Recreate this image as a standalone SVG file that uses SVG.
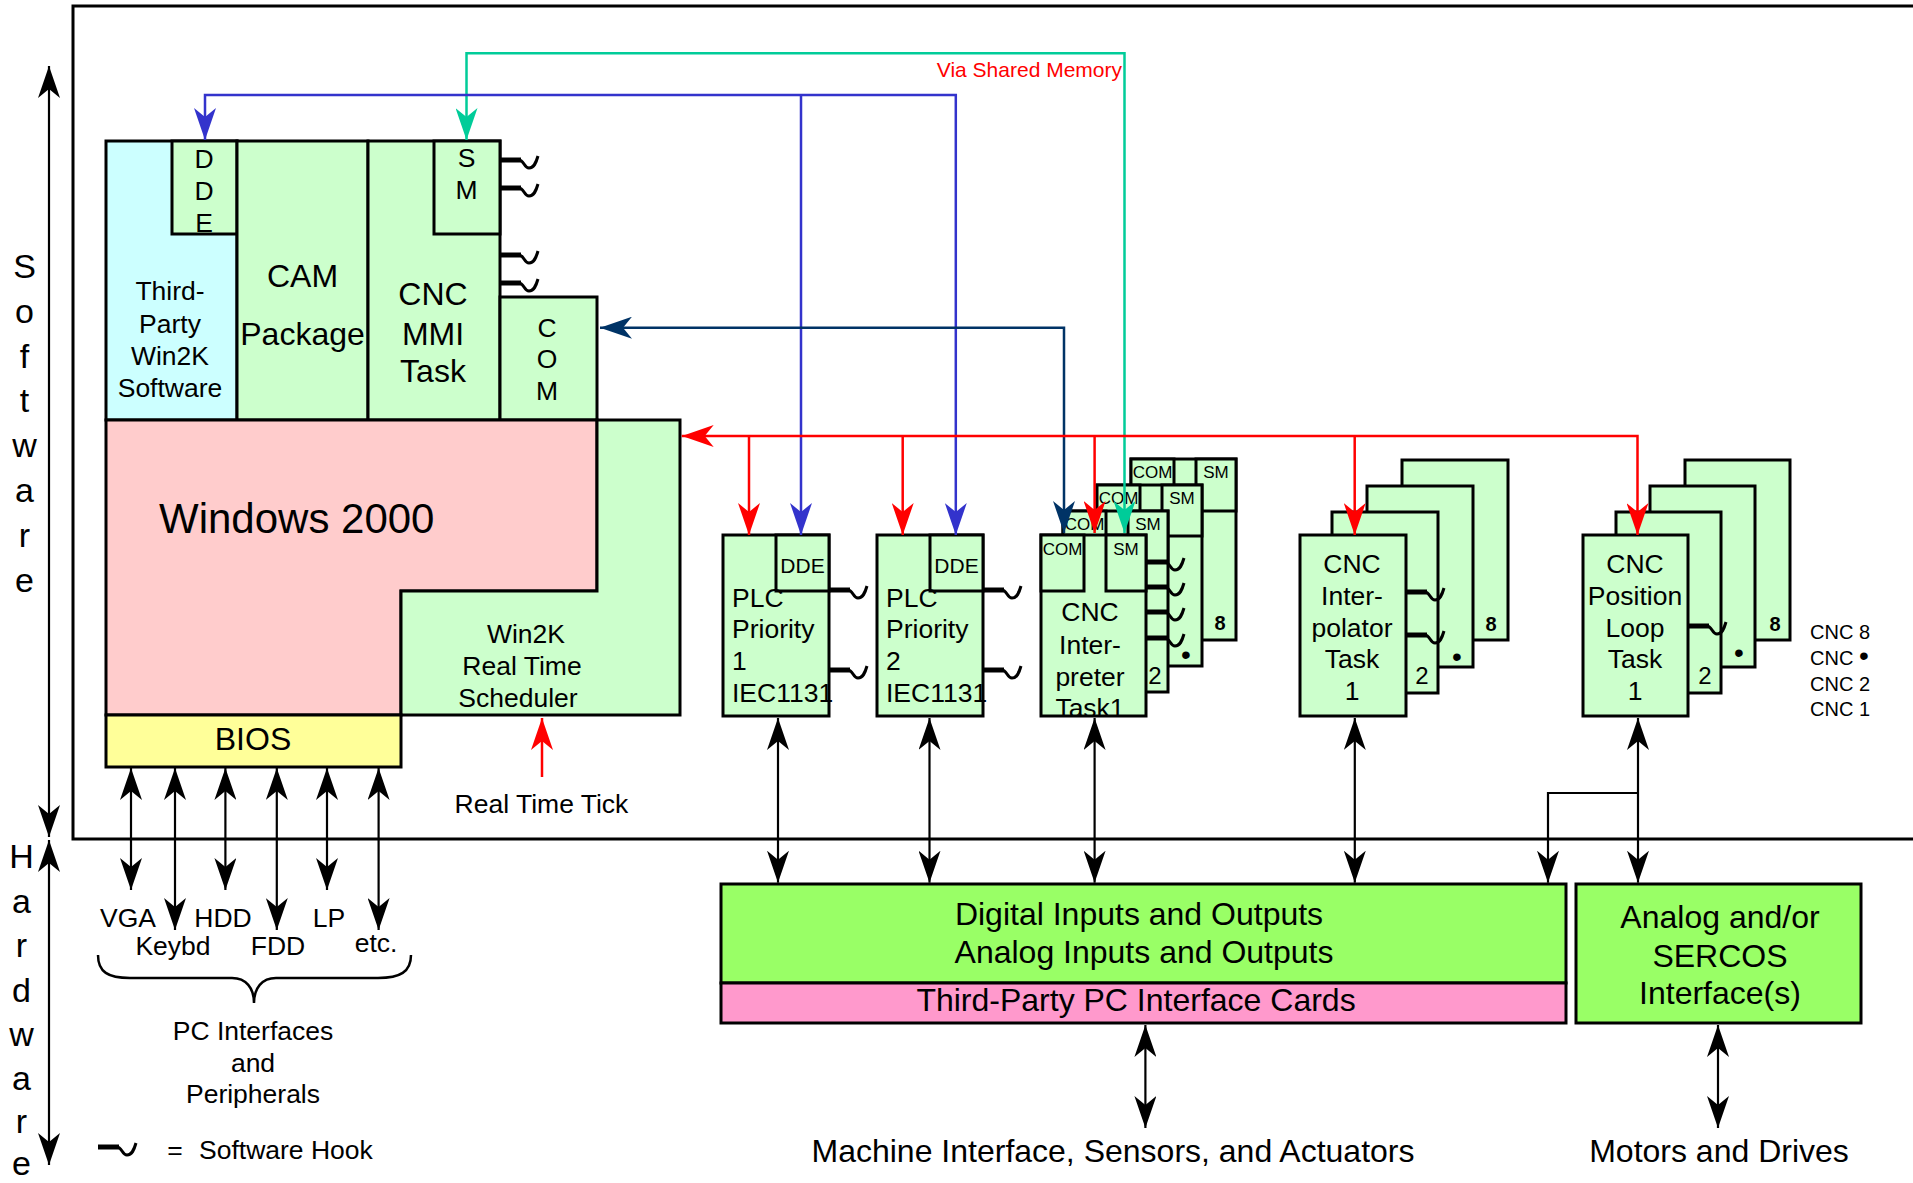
<svg xmlns="http://www.w3.org/2000/svg" xmlns:xlink="http://www.w3.org/1999/xlink" width="1913" height="1183" viewBox="0 0 1913 1183">
<style>
text{font-family:"Liberation Sans",Arial,sans-serif;fill:#000}
.b{stroke:#000;stroke-width:3}
.g{fill:#CCFFCC}
.c{text-anchor:middle}
.f26{font-size:26.5px}
.f31{font-size:32px}
.f17{font-size:17px}
.f21{font-size:21px}
.ln{fill:none;stroke-width:2.5}
.k{stroke:#000;fill:none;stroke-width:2.2}
</style>
<defs>
<marker id="ak" markerUnits="userSpaceOnUse" markerWidth="32" markerHeight="22" refX="32" refY="11" orient="auto-start-reverse" viewBox="0 0 32 22"><path d="M32,11 L0,0 L9,11 L0,22 Z" fill="#000"/></marker>
<marker id="ar" markerUnits="userSpaceOnUse" markerWidth="32" markerHeight="22" refX="32" refY="11" orient="auto-start-reverse" viewBox="0 0 32 22"><path d="M32,11 L0,0 L9,11 L0,22 Z" fill="#FF0000"/></marker>
<marker id="abl" markerUnits="userSpaceOnUse" markerWidth="32" markerHeight="22" refX="32" refY="11" orient="auto-start-reverse" viewBox="0 0 32 22"><path d="M32,11 L0,0 L9,11 L0,22 Z" fill="#3333CC"/></marker>
<marker id="at" markerUnits="userSpaceOnUse" markerWidth="32" markerHeight="22" refX="32" refY="11" orient="auto-start-reverse" viewBox="0 0 32 22"><path d="M32,11 L0,0 L9,11 L0,22 Z" fill="#00CC99"/></marker>
<marker id="an" markerUnits="userSpaceOnUse" markerWidth="32" markerHeight="22" refX="32" refY="11" orient="auto-start-reverse" viewBox="0 0 32 22"><path d="M32,11 L0,0 L9,11 L0,22 Z" fill="#003366"/></marker>
<g id="hook" fill="none" stroke="#000"><path d="M0,0 H21" stroke-width="5"/><path d="M19,0 C24,0 24,8 29,8 C34,8 36,3 38,-4" stroke-width="3"/></g>
</defs>
<rect width="1913" height="1183" fill="#fff"/>

<g id="frame">
<path d="M1913,6 H73 V839 H1913" fill="none" stroke="#000" stroke-width="3"/>
<line x1="49" y1="66" x2="49" y2="837" class="k" marker-start="url(#ak)" marker-end="url(#ak)"/>
<line x1="49" y1="840" x2="49" y2="1165" class="k" marker-start="url(#ak)" marker-end="url(#ak)"/>
<g class="c" style="font-size:34px">
<text x="24.5" y="278">S</text><text x="24.5" y="323">o</text><text x="24.5" y="368">f</text><text x="24.5" y="412">t</text><text x="24.5" y="457">w</text><text x="24.5" y="502">a</text><text x="24.5" y="547">r</text><text x="24.5" y="592">e</text>
<text x="21.5" y="868">H</text><text x="21.5" y="913">a</text><text x="21.5" y="957">r</text><text x="21.5" y="1002">d</text><text x="21.5" y="1046">w</text><text x="21.5" y="1090">a</text><text x="21.5" y="1133">r</text><text x="21.5" y="1175">e</text>
</g>
</g>

<g id="third-party">
<rect x="106" y="141" width="131" height="279" fill="#CCFFFF" class="b"/>
<rect x="172" y="141" width="65" height="93" class="b g"/>
<g class="c f26"><text x="204" y="168">D</text><text x="204" y="200">D</text><text x="204" y="232">E</text>
<text x="170" y="300">Third-</text><text x="170" y="333">Party</text><text x="170" y="365">Win2K</text><text x="170" y="397">Software</text></g>
</g>

<g id="cam">
<rect x="237" y="141" width="131" height="279" class="b g"/>
<g class="c f31"><text x="302.5" y="287">CAM</text><text x="302.5" y="345">Package</text></g>
</g>

<g id="cnc-mmi">
<rect x="368" y="141" width="132" height="279" class="b g"/>
<rect x="434" y="141" width="66" height="93" class="b g"/>
<g class="c f26"><text x="466.5" y="167">S</text><text x="466.5" y="199">M</text></g>
<g class="c f31"><text x="433" y="305">CNC</text><text x="433" y="345">MMI</text><text x="433" y="382">Task</text></g>
</g>

<g id="com">
<rect x="500" y="297" width="97" height="123" class="b g"/>
<g class="c f26"><text x="547" y="337">C</text><text x="547" y="368">O</text><text x="547" y="400">M</text></g>
</g>

<g id="windows">
<path d="M106,420 H597 V591 H401 V715 H106 Z" fill="#FFCCCC" class="b"/>
<text x="159" y="533" style="font-size:42px">Windows 2000</text>
</g>

<g id="scheduler">
<path d="M597,420 H680 V715 H401 V591 H597 Z" class="b g"/>
<g class="c f26"><text x="526" y="643">Win2K</text><text x="522" y="675">Real Time</text><text x="518" y="707">Scheduler</text></g>
</g>

<g id="bios">
<rect x="106" y="715" width="295" height="52" fill="#FFFF99" class="b"/>
<text x="253" y="750" class="c f31">BIOS</text>
</g>

<g id="plc1">
<rect x="723" y="535" width="106" height="181" class="b g"/>
<rect x="776" y="535" width="53" height="56" class="b g"/>
<text x="802.5" y="573" class="c f21">DDE</text>
<g class="f26"><text x="732" y="607">PLC</text><text x="732" y="638">Priority</text><text x="732" y="670">1</text><text x="732" y="702">IEC1131</text></g>
</g>

<g id="plc2">
<rect x="877" y="535" width="106" height="181" class="b g"/>
<rect x="930" y="535" width="53" height="56" class="b g"/>
<text x="956.5" y="573" class="c f21">DDE</text>
<g class="f26"><text x="886" y="607">PLC</text><text x="886" y="638">Priority</text><text x="886" y="670">2</text><text x="886" y="702">IEC1131</text></g>
</g>

<g id="cnc-interpreter">
<rect x="1131" y="459" width="105" height="181" class="b g"/>
<rect x="1131" y="459" width="43" height="52" class="b g"/>
<rect x="1196" y="459" width="40" height="52" class="b g"/>
<text x="1152.5" y="478" class="c f17">COM</text><text x="1216" y="478" class="c f17">SM</text>
<text x="1220" y="630" class="c" style="font-size:20px;font-weight:bold">8</text>
<rect x="1097" y="485" width="105" height="181" class="b g"/>
<rect x="1097" y="485" width="43" height="51" class="b g"/>
<rect x="1162" y="485" width="40" height="51" class="b g"/>
<text x="1118.5" y="504" class="c f17">COM</text><text x="1182" y="504" class="c f17">SM</text>
<text x="1186" y="664" class="c" style="font-size:28px">•</text>
<rect x="1063" y="511" width="105" height="181" class="b g"/>
<rect x="1063" y="511" width="43" height="51" class="b g"/>
<rect x="1128" y="511" width="40" height="51" class="b g"/>
<text x="1084.5" y="530" class="c f17">COM</text><text x="1148" y="530" class="c f17">SM</text>
<text x="1155" y="684" class="c" style="font-size:24px">2</text>
<rect x="1041" y="535" width="105" height="181" class="b g"/>
<rect x="1041" y="535" width="43" height="56" class="b g"/>
<rect x="1106" y="535" width="40" height="56" class="b g"/>
<text x="1062.5" y="555" class="c f17">COM</text><text x="1126" y="555" class="c f17">SM</text>
<g class="c f26"><text x="1090" y="621">CNC</text><text x="1090" y="654">Inter-</text><text x="1090" y="686">preter</text><text x="1090" y="717">Task1</text></g>
</g>

<g id="cnc-interpolator">
<rect x="1402" y="460" width="106" height="180" class="b g"/>
<text x="1491" y="631" class="c" style="font-size:20px;font-weight:bold">8</text>
<rect x="1367" y="486" width="106" height="181" class="b g"/>
<text x="1457" y="666" class="c" style="font-size:28px">•</text>
<rect x="1332" y="512" width="106" height="181" class="b g"/>
<text x="1422" y="684" class="c" style="font-size:24px">2</text>
<rect x="1300" y="535" width="106" height="181" class="b g"/>
<g class="c f26"><text x="1352" y="573">CNC</text><text x="1352" y="605">Inter-</text><text x="1352" y="637">polator</text><text x="1352" y="668">Task</text><text x="1352" y="700">1</text></g>
</g>

<g id="cnc-position-loop">
<rect x="1685" y="460" width="105" height="180" class="b g"/>
<text x="1775" y="631" class="c" style="font-size:20px;font-weight:bold">8</text>
<rect x="1650" y="486" width="105" height="181" class="b g"/>
<text x="1739" y="662" class="c" style="font-size:28px">•</text>
<rect x="1616" y="512" width="105" height="181" class="b g"/>
<text x="1705" y="684" class="c" style="font-size:24px">2</text>
<rect x="1583" y="535" width="105" height="181" class="b g"/>
<g class="c f26"><text x="1635" y="573">CNC</text><text x="1635" y="605">Position</text><text x="1635" y="637">Loop</text><text x="1635" y="668">Task</text><text x="1635" y="700">1</text></g>
</g>

<g id="cnc-legend" style="font-size:20px">
<text x="1810" y="639">CNC 8</text>
<text x="1810" y="665">CNC <tspan style="font-size:28px">•</tspan></text>
<text x="1810" y="691">CNC 2</text>
<text x="1810" y="716">CNC 1</text>
</g>

<g id="io-cards">
<rect x="721" y="884" width="845" height="99" fill="#99FF66" class="b"/>
<rect x="721" y="983" width="845" height="40" fill="#FF99CC" class="b"/>
<g class="c f31"><text x="1139" y="925">Digital Inputs and Outputs</text><text x="1144" y="963">Analog Inputs and Outputs</text><text x="1136" y="1011">Third-Party PC Interface Cards</text></g>
</g>

<g id="sercos">
<rect x="1576" y="884" width="285" height="139" fill="#99FF66" class="b"/>
<g class="c f31"><text x="1720" y="928">Analog and/or</text><text x="1720" y="967">SERCOS</text><text x="1720" y="1004">Interface(s)</text></g>
</g>

<g id="peripherals">
<g class="c f26"><text x="128" y="927">VGA</text><text x="173" y="955">Keybd</text><text x="223" y="927">HDD</text><text x="278" y="955">FDD</text><text x="329" y="927">LP</text><text x="376" y="952">etc.</text>
<text x="253" y="1040">PC Interfaces</text><text x="253" y="1072">and</text><text x="253" y="1103">Peripherals</text></g>
<path d="M98,955 C98,972 108,978 130,978 H232 C246,978 254,988 254,1003 C254,988 262,978 276,978 H378 C400,978 411,972 411,955" fill="none" stroke="#000" stroke-width="2.5"/>
</g>

<g id="labels">
<text x="1122" y="77" style="font-size:21px;fill:#FF0000;text-anchor:end">Via Shared Memory</text>
<text x="541.5" y="813" class="c f26">Real Time Tick</text>
<text x="1113" y="1162" class="c f31">Machine Interface, Sensors, and Actuators</text>
<text x="1719" y="1162" class="c f31">Motors and Drives</text>
<use href="#hook" x="98" y="1147"/>
<text x="175" y="1159" class="c f26">=</text>
<text x="199" y="1159" class="f26">Software Hook</text>
</g>

<g id="connectors">
<path d="M466.5,140 V53.3 H1124.5 V533" class="ln" stroke="#00CC99" marker-start="url(#at)" marker-end="url(#at)"/>
<path d="M205,140 V95 H955.8 V535" class="ln" stroke="#3333CC" marker-start="url(#abl)" marker-end="url(#abl)"/>
<path d="M801,95 V535" class="ln" stroke="#3333CC" marker-end="url(#abl)"/>
<path d="M600,327.7 H1064 V533" class="ln" stroke="#003366" marker-start="url(#an)" marker-end="url(#an)"/>
<path d="M681.7,436 H1637.5 V535" class="ln" stroke="#FF0000" marker-start="url(#ar)" marker-end="url(#ar)"/>
<path d="M749,436 V535" class="ln" stroke="#FF0000" marker-end="url(#ar)"/>
<path d="M902.7,436 V535" class="ln" stroke="#FF0000" marker-end="url(#ar)"/>
<path d="M1094.6,436 V533" class="ln" stroke="#FF0000" marker-end="url(#ar)"/>
<path d="M1354.7,436 V535" class="ln" stroke="#FF0000" marker-end="url(#ar)"/>
<path d="M542,777 V718" class="ln" stroke="#FF0000" marker-end="url(#ar)"/>
<line x1="131" y1="768" x2="131" y2="890" class="k" marker-start="url(#ak)" marker-end="url(#ak)"/>
<line x1="175" y1="768" x2="175" y2="930" class="k" marker-start="url(#ak)" marker-end="url(#ak)"/>
<line x1="225.4" y1="768" x2="225.4" y2="890" class="k" marker-start="url(#ak)" marker-end="url(#ak)"/>
<line x1="276.8" y1="768" x2="276.8" y2="930" class="k" marker-start="url(#ak)" marker-end="url(#ak)"/>
<line x1="327" y1="768" x2="327" y2="890" class="k" marker-start="url(#ak)" marker-end="url(#ak)"/>
<line x1="378.6" y1="768" x2="378.6" y2="930" class="k" marker-start="url(#ak)" marker-end="url(#ak)"/>
<line x1="778" y1="718" x2="778" y2="882.7" class="k" marker-start="url(#ak)" marker-end="url(#ak)"/>
<line x1="929.5" y1="718" x2="929.5" y2="882.7" class="k" marker-start="url(#ak)" marker-end="url(#ak)"/>
<line x1="1094.6" y1="718" x2="1094.6" y2="882.7" class="k" marker-start="url(#ak)" marker-end="url(#ak)"/>
<line x1="1354.8" y1="718" x2="1354.8" y2="882.7" class="k" marker-start="url(#ak)" marker-end="url(#ak)"/>
<line x1="1638" y1="718" x2="1638" y2="882.7" class="k" marker-start="url(#ak)" marker-end="url(#ak)"/>
<path d="M1638,793 H1548 V882.7" class="k" marker-end="url(#ak)"/>
<line x1="1145.4" y1="1025" x2="1145.4" y2="1128" class="k" marker-start="url(#ak)" marker-end="url(#ak)"/>
<line x1="1718" y1="1025" x2="1718" y2="1128" class="k" marker-start="url(#ak)" marker-end="url(#ak)"/>
</g>

<g id="hooks">
<use href="#hook" x="500" y="160"/><use href="#hook" x="500" y="188"/>
<use href="#hook" x="500" y="255"/><use href="#hook" x="500" y="283"/>
<use href="#hook" x="829" y="590"/><use href="#hook" x="829" y="670"/>
<use href="#hook" x="983" y="590"/><use href="#hook" x="983" y="670"/>
<use href="#hook" x="1146" y="562"/><use href="#hook" x="1146" y="587"/><use href="#hook" x="1146" y="612"/><use href="#hook" x="1146" y="638"/>
<use href="#hook" x="1406" y="592"/><use href="#hook" x="1406" y="635"/>
<use href="#hook" x="1688" y="626"/>
</g>
</svg>
